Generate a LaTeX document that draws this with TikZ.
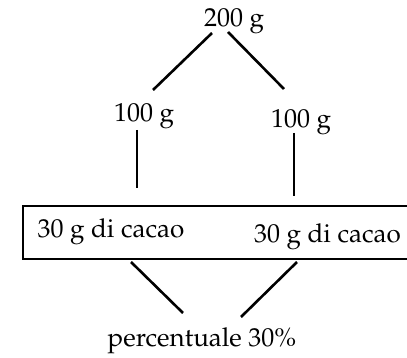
\documentclass[tikz,border=0pt]{standalone}
\usepackage[T1]{fontenc}
\usepackage{mathpazo}
\begin{document}
\begin{tikzpicture}[x=1pt,y=-1pt,
  lbl/.style={inner sep=0pt,anchor=base,font=\fontsize{26}{30}\selectfont},
  thick line/.style={line width=2.6pt},
  thin line/.style={line width=1.7pt}]
\useasboundingbox (0,0) rectangle (407,358);
\node[lbl] (t) at (234,27) {200 g};
\node[lbl] (l) at (144,122) {100 g};
\node[lbl] (r) at (301,128) {100 g};
\node (box) [draw,line width=1.8pt,anchor=north west,minimum width=420pt,minimum height=53pt,inner sep=0pt] at (22,205) {};
\node[lbl] (lc) at (111,237) {30 g di cacao};
\node[lbl] (rc) at (327.5,243) {30 g di cacao};
\node[lbl] (p) at (202,346) {percentuale 30\%};
\draw[thick line] ([shift={(-22,6)}]t.base) -- ([shift={(9,-32)}]l.base);
\draw[thick line] ([shift={(-6,5)}]t.base) -- ([shift={(-17,-39)}]r.base);
\draw[thin line] ([shift={(-7,8)}]l.base) -- ([shift={(26,-49)}]lc.base);
\draw[thin line] ([shift={(-7,5)}]r.base) -- ([shift={(-33.5,-47)}]rc.base);
\draw[thick line] ([shift={(20,25)}]lc.base) -- ([shift={(-19,-33)}]p.base);
\draw[thick line] ([shift={(-30.5,19)}]rc.base) -- ([shift={(39,-29)}]p.base);
\end{tikzpicture}
\end{document}
